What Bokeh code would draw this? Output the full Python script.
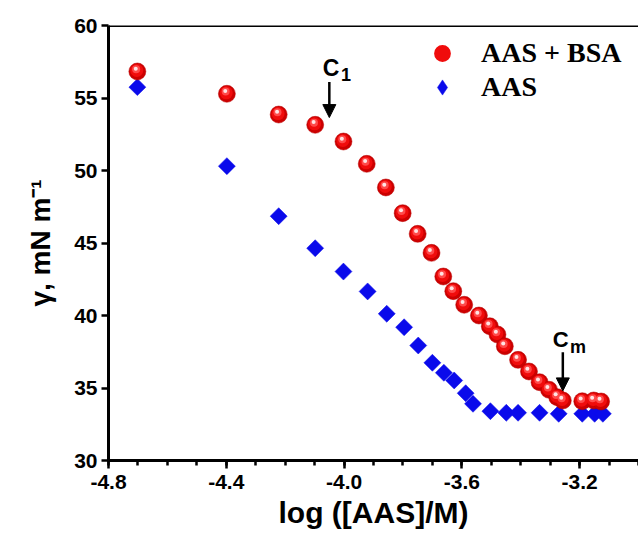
from bokeh.plotting import figure
from bokeh.models import (Range1d, FixedTicker, Legend, LegendItem, Arrow, NormalHead,
                          Label, ColumnDataSource, NumeralTickFormatter, Span)
from bokeh.transform import dodge
from bokeh.embed import file_html
from bokeh.resources import INLINE

# ---- data ----
log_c_bsa = [-4.702, -4.398, -4.222, -4.098, -4.002, -3.923, -3.858, -3.801, -3.750, -3.703,
             -3.663, -3.629, -3.592, -3.542, -3.505, -3.479, -3.454, -3.409, -3.372, -3.336,
             -3.304, -3.276, -3.257, -3.191, -3.152, -3.127]
gamma_bsa = [56.83, 55.29, 53.86, 53.15, 52.00, 50.46, 48.83, 47.06, 45.63, 44.32,
             42.69, 41.68, 40.74, 40.00, 39.26, 38.69, 37.88, 36.94, 36.14, 35.40,
             34.88, 34.37, 34.14, 34.09, 34.14, 34.07]

log_c_aas = [-4.702, -4.398, -4.222, -4.098, -4.002, -3.920, -3.855, -3.796, -3.748, -3.700,
             -3.661, -3.626, -3.587, -3.562, -3.503, -3.449, -3.409, -3.336, -3.271, -3.191,
             -3.149, -3.121]
gamma_aas = [55.75, 50.30, 46.85, 44.64, 43.03, 41.66, 40.12, 39.19, 37.93, 36.74,
             36.05, 35.52, 34.64, 33.91, 33.40, 33.29, 33.29, 33.29, 33.22, 33.22,
             33.22, 33.22]

x_major_ticks = [-4.8, -4.4, -4.0, -3.6, -3.2]
x_minor_ticks = [-4.8, -4.7, -4.6, -4.5, -4.4, -4.3, -4.2, -4.1, -4.0, -3.9, -3.8, -3.7,
                 -3.6, -3.5, -3.4, -3.3, -3.2, -3.1, -3.0]
y_ticks = [30, 35, 40, 45, 50, 55, 60]

series_labels = ["AAS + BSA", "AAS"]
x_title = "log ([AAS]/M)"
y_title = "\u03b3, mN m\u207b\u00b9"

src_bsa = ColumnDataSource(dict(x=log_c_bsa, y=gamma_bsa))
src_aas = ColumnDataSource(dict(x=log_c_aas, y=gamma_aas))

p = figure(width=638, height=535, output_backend="svg", toolbar_location=None,
           x_range=Range1d(-4.8, -3.0), y_range=Range1d(30, 60),
           min_border_left=108, min_border_right=0, min_border_top=25, min_border_bottom=75)
p.outline_line_color = None
p.grid.visible = False
p.background_fill_color = "white"
p.border_fill_color = "white"

# top frame line
p.add_layout(Span(location=60, dimension="width", line_color="black", line_width=3))

# axes
font = "Liberation Sans"
xa = p.xaxis[0]
xa.ticker = FixedTicker(ticks=x_major_ticks, minor_ticks=x_minor_ticks)
xa.formatter = NumeralTickFormatter(format="0.0")
ya = p.yaxis[0]
ya.ticker = FixedTicker(ticks=y_ticks, minor_ticks=[])
ya.formatter = NumeralTickFormatter(format="0")
for ax in (xa, ya):
    ax.axis_line_width = 3
    ax.axis_line_color = "black"
    ax.major_tick_line_width = 2.5
    ax.major_tick_line_color = "black"
    ax.major_tick_in = 0
    ax.minor_tick_line_width = 2.5
    ax.minor_tick_line_color = "black"
    ax.minor_tick_in = 0
    ax.major_label_text_font = font
    ax.major_label_text_font_style = "bold"
    ax.major_label_text_font_size = "21px"
    ax.major_label_text_color = "black"
    ax.axis_label_text_font = font
    ax.axis_label_text_font_style = "bold"
    ax.axis_label_text_color = "black"
xa.major_tick_out = 8
xa.minor_tick_out = 5
xa.major_label_standoff = 6
xa.axis_label = x_title
xa.axis_label_text_font_size = "30px"
xa.axis_label_standoff = 4
ya.major_tick_out = 7
ya.minor_tick_out = 0
ya.major_label_standoff = 4
ya.axis_label = y_title
ya.axis_label_text_font_size = "28px"
ya.axis_label_standoff = 15

# AAS (blue diamonds)
r_aas = p.scatter("x", "y", source=src_aas, marker="square", angle=0.785398, size=12,
                  fill_color="#0a0aeb", line_color="#0a0aeb", line_width=0.5)
# legend-only twin (diamond shape, not drawn in the plot)
r_aas_leg = p.scatter("x", "y", source=src_aas, marker="diamond", size=15,
                      fill_color="#0a0aeb", line_color="#0a0aeb", line_width=0.5, visible=False)

# AAS + BSA (red shaded spheres)
px_x = 1.8 / 530.0
px_y = 30.0 / 435.0
r1 = p.scatter("x", "y", source=src_bsa, marker="circle", size=17,
               fill_color="#cc0000", line_color="#b80000", line_width=0.5)
r2 = p.scatter(dodge("x", -0.6 * px_x), dodge("y", 1.0 * px_y), source=src_bsa, marker="circle",
               size=13, fill_color="#f00c0c", line_color=None)
r3 = p.scatter(dodge("x", -1.2 * px_x), dodge("y", 2.2 * px_y), source=src_bsa, marker="circle",
               size=8, fill_color="#ff4a4a", line_color=None)
r4 = p.scatter(dodge("x", -1.6 * px_x), dodge("y", 2.8 * px_y), source=src_bsa, marker="circle",
               size=4, fill_color="#ffe4e4", line_color=None)

legend_style = dict(border_line_color=None, background_fill_alpha=0,
                    label_text_font="Liberation Serif", label_text_font_style="bold",
                    label_text_font_size="28px", label_text_color="black",
                    spacing=0, padding=4, margin=0)
legend_bsa = Legend(items=[LegendItem(label=series_labels[0], renderers=[r2])],
                    location=(313, 386), glyph_width=42, glyph_height=42, label_standoff=18,
                    **legend_style)
legend_aas = Legend(items=[LegendItem(label=series_labels[1], renderers=[r_aas_leg])],
                    location=(315, 354), glyph_width=38, glyph_height=38, label_standoff=20,
                    **legend_style)
p.add_layout(legend_bsa)
p.add_layout(legend_aas)

# annotations C1 and Cm
p.add_layout(Arrow(end=NormalHead(size=13, fill_color="black", line_color="black", line_width=1),
                   x_start=-4.05, y_start=56.1, x_end=-4.05, y_end=53.65,
                   line_width=2.5, line_color="black"))
p.add_layout(Label(x=-4.044, y=57.05, text="C", text_align="center", text_baseline="alphabetic",
                   text_font=font, text_font_style="bold", text_font_size="23px",
                   text_color="black"))
p.add_layout(Label(x=-4.010, y=56.62, text="1", text_align="left", text_baseline="alphabetic",
                   text_font=font, text_font_style="bold", text_font_size="18px",
                   text_color="black"))
p.add_layout(Arrow(end=NormalHead(size=13, fill_color="black", line_color="black", line_width=1),
                   x_start=-3.257, y_start=37.47, x_end=-3.257, y_end=34.8,
                   line_width=2.5, line_color="black"))
p.add_layout(Label(x=-3.264, y=38.32, text="C", text_align="center", text_baseline="alphabetic",
                   text_font=font, text_font_style="bold", text_font_size="22px",
                   text_color="black"))
p.add_layout(Label(x=-3.233, y=37.86, text="m", text_align="left", text_baseline="alphabetic",
                   text_font=font, text_font_style="bold", text_font_size="18px",
                   text_color="black"))

open("out.html", "w").write(file_html(p, INLINE))
